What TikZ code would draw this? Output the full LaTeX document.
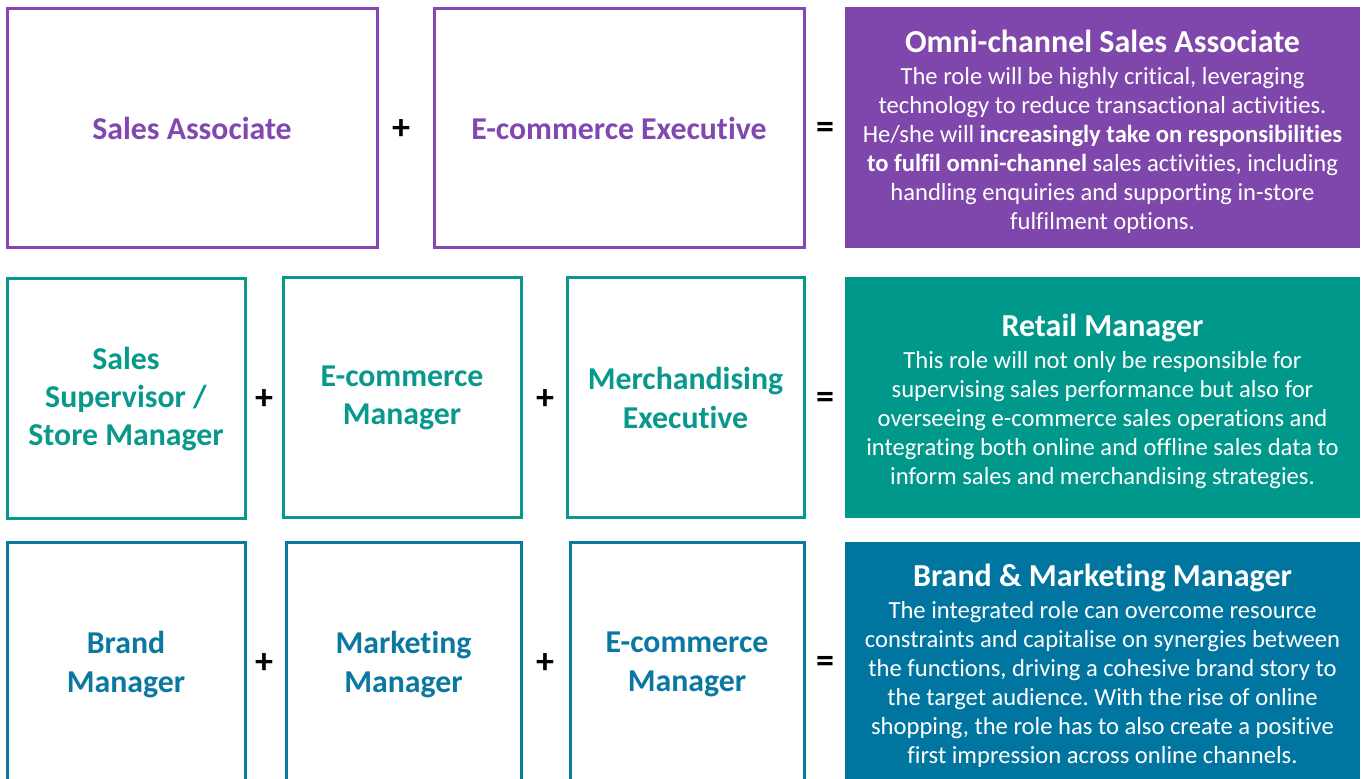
\documentclass[tikz,border=0pt]{standalone}
\usepackage{fontspec}
\setmainfont{Carlito}[Ligatures=NoCommon]
\usetikzlibrary{positioning}
\definecolor{cSA}  {RGB}{128, 72,176}
\definecolor{cSAp} {RGB}{127, 71,171}
\definecolor{cRM}  {RGB}{  8,152,140}
\definecolor{cRMp} {RGB}{  0,152,138}
\definecolor{cBM}  {RGB}{ 10,120,160}
\definecolor{cBMp} {RGB}{  0,117,159}
\frenchspacing

\begin{document}
\begin{tikzpicture}[
  x=0.5pt, y=-0.5pt,
  %% ── outlined role box ────────────────────────────────────────────────
  R/.style={
    draw=#1, text=#1, fill=white, line width=1.5pt,
    align=center, font=\fontsize{15.9}{19.2}\selectfont\bfseries, inner sep=0pt
  },
  %% ── merged role panel ────────────────────────────────────────────────
  P/.style={
    fill=#1, minimum width=257.5pt, minimum height=120.5pt, inner sep=0pt
  },
  %% ── panel title / panel body ─────────────────────────────────────────
  T/.style={text=white, font=\fontsize{16}{17}\selectfont\bfseries,
            text height=10pt, text depth=0pt, inner sep=0pt},
  B/.style={text=white, align=center, font=\fontsize{12.3}{14.5}\selectfont,
            inner sep=0pt},
  %% ── plus / equals sign ───────────────────────────────────────────────
  O/.style={font=\fontsize{18}{18}\selectfont\bfseries, inner sep=0pt},
]

\useasboundingbox (0,0) rectangle (1364,779);
\clip (0,0) rectangle (1364,779);

%% ═══════════════════════════════════════════════════════════════════════
%%  ROW 1  (omni-channel sales associate)
%% ═══════════════════════════════════════════════════════════════════════

\node[R=cSA, minimum width=185pt, minimum height=119.5pt] (sa) at (192,128.5)
  {Sales Associate};
\node[R=cSA, minimum width=185pt, minimum height=119.5pt] (ece) at (619,128.5)
  {E-commerce Executive};
\node[O] (plusA) at (401,130) {+};
\node[O] (eqA)   at (825,130) {=};

\node[P=cSAp] (pA) at (1102.5,127.5) {};
\node[T, anchor=base] (tA) at (1102.5,53) {Omni-channel Sales Associate};
\node[B, below=6.7pt of tA] (bA) {%
  The role will be highly critical, leveraging\\
  technology to reduce transactional activities.\\
  He/she will \textbf{increasingly take on responsibilities}\\
  \textbf{to fulfil omni-channel} sales activities, including\\
  handling enquiries and supporting in-store\\
  fulfilment options.};

%% ═══════════════════════════════════════════════════════════════════════
%%  ROW 2  (retail manager)
%% ═══════════════════════════════════════════════════════════════════════

\node[R=cRM, minimum width=119pt, minimum height=120pt] (ssm) at (126,399)
  {Sales\\Supervisor /\\Store Manager};
\node[R=cRM, minimum width=119pt, minimum height=120pt] (ecm) at (402,398)
  {E-commerce\\Manager};
\node[R=cRM, minimum width=118.5pt, minimum height=120pt] (mex) at (685.5,398)
  {Merchandising\\Executive};
\node[O] (plusB1) at (264,400) {+};
\node[O] (plusB2) at (545,400) {+};
\node[O] (eqB)    at (825,400) {=};

\node[P=cRMp] (pB) at (1102.5,397.5) {};
\node[T, anchor=base] (tB) at (1102.5,337) {Retail Manager};
\node[B, below=6.7pt of tB] (bB) {%
  This role will not only be responsible for\\
  supervising sales performance but also for\\
  overseeing e-commerce sales operations and\\
  integrating both online and offline sales data to\\
  inform sales and merchandising strategies.};

%% ═══════════════════════════════════════════════════════════════════════
%%  ROW 3  (brand & marketing manager, cut at the page edge)
%% ═══════════════════════════════════════════════════════════════════════

\node[R=cBM, minimum width=119pt, minimum height=121.5pt] (bm) at (126,664.5)
  {Brand\\Manager};
\node[R=cBM, minimum width=117.5pt, minimum height=121.5pt] (mm) at (403.5,664.5)
  {Marketing\\Manager};
\node[R=cBM, minimum width=117pt, minimum height=121.5pt] (ecm2) at (687,664.5)
  {E-commerce\\Manager};
\node[O] (plusC1) at (264,664) {+};
\node[O] (plusC2) at (545,664) {+};
\node[O] (eqC)    at (825,664) {=};

\node[P=cBMp, minimum height=125pt] (pC) at (1102.5,667) {};
\node[T, anchor=base] (tC) at (1102.5,587) {Brand \& Marketing Manager};
\node[B, below=6.7pt of tC] (bC) {%
  The integrated role can overcome resource\\
  constraints and capitalise on synergies between\\
  the functions, driving a cohesive brand story to\\
  the target audience. With the rise of online\\
  shopping, the role has to also create a positive\\
  first impression across online channels.};

\end{tikzpicture}
\end{document}
